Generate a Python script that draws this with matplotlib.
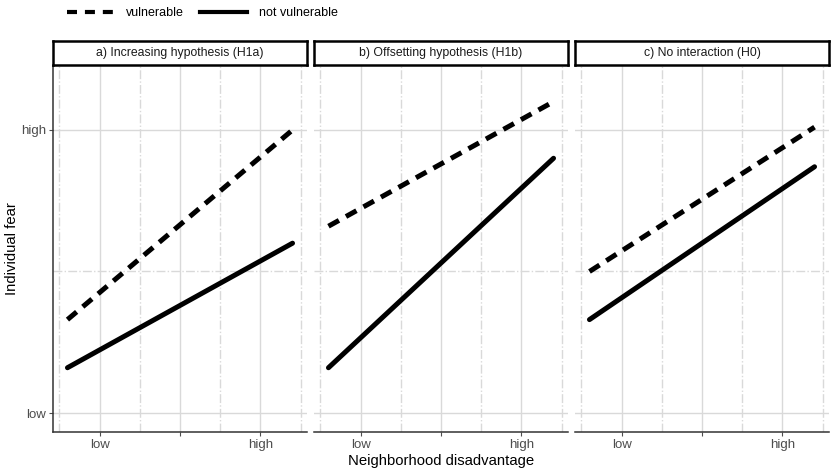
import matplotlib.pyplot as plt
from matplotlib.lines import Line2D

plt.rcParams['font.family'] = ['Liberation Sans', 'DejaVu Sans']

# --- data ---
panels = ['a) Increasing hypothesis (H1a)',
          'b) Offsetting hypothesis (H1b)',
          'c) No interaction (H0)']
x_ends = [-0.2, 1.2]
vulnerable = [[0.33, 1.00], [0.66, 1.10], [0.50, 1.01]]
not_vulnerable = [[0.16, 0.60], [0.16, 0.90], [0.33, 0.87]]

x_major = [0, 0.5, 1]
x_major_labels = ['low', '', 'high']
x_minor = [-0.25, 0.25, 0.75, 1.25]
y_major = [0, 1]
y_major_labels = ['low', 'high']
y_minor = [0.5]

W, H = 832, 471
fig = plt.figure(figsize=(W / 100, H / 100), dpi=100)

grid_col = '#d9d9d9'
axis_col = '#333333'
tick_col = '#4d4d4d'

left0, pw, gap = 53, 254, 7
top, bottom = 66, 431.7
strip_h = 24

dash = (2.4, 1.6)
lw = 3.6

axes = []
for i, title in enumerate(panels):
    l = left0 + i * (pw + gap)
    ax = fig.add_axes([l / W, 1 - bottom / H, pw / W, (bottom - top) / H])
    axes.append(ax)
    ax.set_xlim(-0.29, 1.29)
    ax.set_ylim(-0.066, 1.226)

    # grid
    for xv in x_major:
        ax.axvline(xv, color=grid_col, lw=1.0, zorder=0)
    for xv in x_minor:
        ax.axvline(xv, color=grid_col, lw=1.0, ls='-.', zorder=0)
    for yv in y_major:
        ax.axhline(yv, color=grid_col, lw=1.0, zorder=0)
    for yv in y_minor:
        ax.axhline(yv, color=grid_col, lw=1.0, ls='-.', zorder=0)

    ax.plot(x_ends, vulnerable[i], color='black', lw=lw, ls='--',
            dashes=dash, dash_capstyle='butt', zorder=3)
    ax.plot(x_ends, not_vulnerable[i], color='black', lw=lw,
            solid_capstyle='round', zorder=3)

    ax.set_xticks(x_major)
    ax.set_xticklabels(x_major_labels)
    ax.tick_params(axis='x', length=3, width=0.8, color=tick_col,
                   labelcolor=tick_col, labelsize=9.5, pad=2.5)
    for s in ['top', 'right']:
        ax.spines[s].set_visible(False)
    ax.spines['bottom'].set_color(axis_col)
    ax.spines['bottom'].set_linewidth(1.1)
    if i == 0:
        ax.set_yticks(y_major)
        ax.set_yticklabels(y_major_labels)
        ax.tick_params(axis='y', length=3, width=0.8, color=tick_col,
                       labelcolor=tick_col, labelsize=9.5, pad=2)
        ax.spines['left'].set_color(axis_col)
        ax.spines['left'].set_linewidth(1.1)
    else:
        ax.set_yticks([])
        ax.spines['left'].set_visible(False)

    # strip
    sax = fig.add_axes([l / W, 1 - (top - 1) / H, pw / W, strip_h / H])
    sax.set_xticks([])
    sax.set_yticks([])
    for s in sax.spines.values():
        s.set_linewidth(1.8)
        s.set_color('black')
    sax.text(0.5, 0.5, title, ha='center', va='center', fontsize=8.8,
             color='#1a1a1a', transform=sax.transAxes)

fig.text((left0 + (3 * pw + 2 * gap) / 2) / W, 1 - 461 / H,
         'Neighborhood disadvantage', ha='center', va='center', fontsize=10.7)
fig.text(12 / W, 1 - ((top + bottom) / 2) / H, 'Individual fear',
         rotation=90, ha='center', va='center', fontsize=10.7)

handles = [Line2D([], [], color='black', lw=3, ls='--', dashes=(2.4, 1.9)),
           Line2D([], [], color='black', lw=3)]
fig.legend(handles, ['vulnerable', 'not vulnerable'], loc='center left',
           bbox_to_anchor=(67 / W, 1 - 13 / H), ncol=2, frameon=False,
           fontsize=9, handlelength=3.8, columnspacing=1.3,
           handletextpad=0.9, borderaxespad=0, borderpad=0)

fig.savefig('out.png', dpi=100)
